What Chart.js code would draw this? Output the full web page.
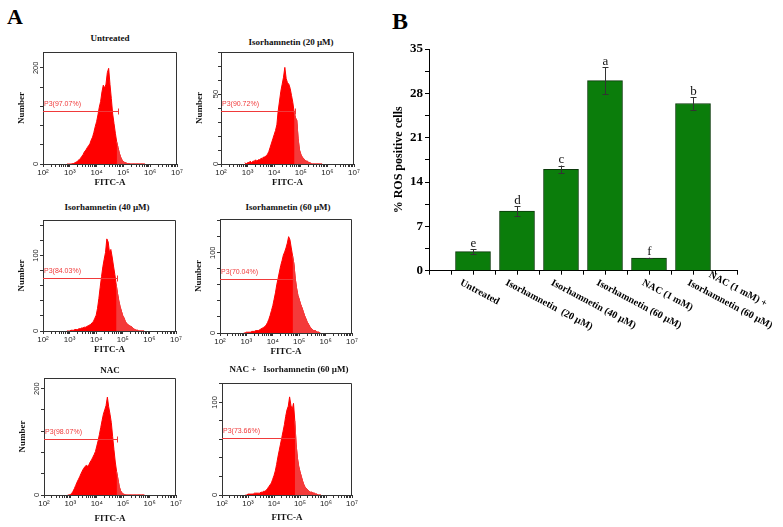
<!DOCTYPE html>
<html><head><meta charset="utf-8">
<script src="https://cdn.jsdelivr.net/npm/chart.js@4.4.1/dist/chart.umd.min.js"></script>
<style>
html,body{margin:0;padding:0;background:#fff;}
#page{position:relative;width:783px;height:527px;overflow:hidden;background:#fff;}
canvas{position:absolute;}
.t{position:absolute;transform:translate(-50%,-50%);white-space:pre;font:bold 9px "Liberation Serif","Times New Roman",serif;color:#111;line-height:1;}
.panel{position:absolute;font-weight:bold;font-family:"Liberation Serif","Times New Roman",serif;line-height:1;color:#000;}
</style></head><body><div id="page"></div>
<script>
// ---------- DATA ----------
// histogram bin positions (log10 of FITC-A)
const binExp = [2.90,2.95,3.00,3.05,3.10,3.15,3.20,3.25,3.30,3.35,
                3.40,3.45,3.50,3.55,3.60,3.65,3.70,3.75,3.80,3.85,
                3.90,3.95,4.00,4.05,4.10,4.15,4.20,4.25,4.30,4.35,
                4.40,4.45,4.50,4.55,4.60,4.65,4.70,4.75,4.80,4.85,
                4.90,4.95,5.00,5.05,5.10,5.15,5.20,5.25,5.30,5.35,
                5.40,5.45,5.50,5.55,5.60,5.65,5.70,5.75,5.80];
const untreated = [0,0,0,0,1,1,3,4,7,9,
                   12,16,20,26,29,34,38,42,50,56,
                   66,78,88,102,118,130,150,164,158,166,
                   190,199,165,136,104,84,64,46,34,22,
                   14,8,5,3,2,1,1,0,0,0,
                   0,0,0,0,0,0,0,0,0];
const iso20 = [1,0,1,1,2,1,2,2,3,2,
               3,3,4,4,5,5,6,7,9,12,
               15,18,21,24,28,38,45,52,57,62,
               69,61,58,57,54,49,44,37,33,31,
               18,10,7,5,4,3,2,2,1,1,
               0,0,0,0,0,0,0,0,0];
const iso40 = [0,0,0,1,1,1,2,2,2,3,
               3,4,4,5,5,6,7,8,9,11,
               13,17,21,30,43,58,72,85,95,104,
               122,118,104,108,98,86,75,62,50,40,
               32,26,20,17,12,10,8,7,6,5,
               3,2,1,1,0,0,0,0,0];
const iso60 = [0,0,1,1,1,1,2,2,2,3,
               3,3,4,5,6,7,8,10,13,17,
               22,28,34,42,50,60,68,76,84,90,
               97,101,106,112,120,116,106,96,86,68,
               56,47,42,36,32,27,22,18,14,11,
               8,6,4,3,3,2,1,1,0];
const nac = [0,0,1,3,7,12,18,24,29,34,
             40,45,50,53,56,54,57,62,66,71,
             76,82,92,102,114,127,140,152,160,168,
             184,166,152,136,110,85,62,44,30,16,
             8,4,2,1,0,0,0,0,0,0,
             0,0,0,0,0,0,0,0,0];
const nacIso60 = [0,0,1,1,1,1,1,2,2,2,
                  2,2,3,3,4,4,5,7,9,11,
                  13,17,21,26,33,41,48,55,62,69,
                  76,85,92,96,106,97,92,99,80,55,
                  40,31,25,20,15,11,8,7,5,4,
                  3,3,2,2,1,1,0,0,0];
const histTitles = ['Untreated','Isorhamnetin (20 µM)','Isorhamnetin (40 µM)','Isorhamnetin (60 µM)','NAC','NAC +   Isorhamnetin (60 µM)'];
const gateLabels = ['P3(97.07%)','P3(90.72%)','P3(84.03%)','P3(70.04%)','P3(98.07%)','P3(73.66%)'];
const gateCounts = [110,38,70,67,105,62];
const gateEnds = [4.78,4.78,4.78,4.78,4.78,4.82];
const histYMax = [233,80,147,142,220,121];
const histYMajor = [100,50,50,50,100,50];
const histYMinor = [20,10,10,10,20,10];
const decadeLabels = ['10²','10³','10⁴','10⁵','10⁶','10⁷'];

const barCategories = ['Untreated','Isorhamnetin  (20 µM)','Isorhamnetin (40 µM)','Isorhamnetin (60 µM)','NAC (1 mM)',['NAC (1 mM) +','Isorhamnetin (60 µM)']];
const rosValues = [3.0,9.4,16.0,30.0,2.0,26.4];
const rosErrors = [0.4,0.75,0.6,2.1,0.05,1.0];
const sigLetters = ['e','d','c','a','f','b'];
const rosTicks = [0,7,14,21,28,35];

// ---------- LAYOUT ----------
const histSeries = [untreated, iso20, iso40, iso60, nac, nacIso60];
const histBoxes = [[43,52,177,164],[221,52,354,164],[43,220,176,331],[220,219,352,333],[44,378,176,495],[222,383,352,495]];
const histTitlePos = [[110,38],[291,42],[107,207],[288,207],[110,370],[289,369]];
const xTitleGap = [19,19,19,19,24,23];
const SERIF = '"Liberation Serif","Times New Roman",serif';
const SANS = '"Liberation Sans","DejaVu Sans",Arial,sans-serif';

const page = document.getElementById('page');
function addCanvas(left, top, w, h){
  const c = document.createElement('canvas');
  c.width = w; c.height = h;
  c.style.left = left+'px'; c.style.top = top+'px';
  c.style.width = w+'px'; c.style.height = h+'px';
  page.appendChild(c); return c;
}
function addDiv(text, cls, css){
  const d = document.createElement('div');
  d.className = cls; d.textContent = text;
  Object.assign(d.style, css); page.appendChild(d); return d;
}
addDiv('A','panel',{left:'7px',top:'6px',fontSize:'22px'});
addDiv('B','panel',{left:'392px',top:'9px',fontSize:'24px'});

const framePlugin = {id:'frame', afterDraw(chart){
  const {ctx, chartArea:a} = chart;
  ctx.save(); ctx.strokeStyle='#333'; ctx.lineWidth=1;
  ctx.beginPath();
  ctx.moveTo(a.left, a.top+0.5); ctx.lineTo(a.right-0.5, a.top+0.5); ctx.lineTo(a.right-0.5, a.bottom);
  ctx.stroke(); ctx.restore();
}};

function gatePlugin(i){
  return {id:'gate'+i, afterDatasetsDraw(chart){
    const xs = chart.scales.x, ys = chart.scales.y, ctx = chart.ctx;
    const y = Math.round(ys.getPixelForValue(gateCounts[i])) + 0.5;
    const x0 = xs.left, x1 = Math.round(xs.getPixelForValue(Math.pow(10, gateEnds[i]))) + 0.5;
    ctx.save();
    ctx.strokeStyle = '#f03a3a'; ctx.lineWidth = 1;
    ctx.beginPath(); ctx.moveTo(x0, y); ctx.lineTo(x1, y);
    ctx.moveTo(x1, y-3); ctx.lineTo(x1, y+3); ctx.stroke();
    ctx.fillStyle = '#f03a3a'; ctx.font = '7px '+SANS; ctx.textBaseline = 'alphabetic'; ctx.textAlign='left';
    ctx.fillText(gateLabels[i], x0+1, y-6);
    ctx.restore();
  }};
}

function makeHist(i){
  const [L,T,R,B] = histBoxes[i];
  const YW = 32, XH = 30, PT = 4, PR = 8;
  const cv = addCanvas(L-YW, T-PT, R-L+YW+PR, B-T+PT+XH);
  const series = histSeries[i];
  const pts = binExp.map((e,k)=>({x: Math.pow(10,e), y: series[k]}));
  const hi = binExp.map((e,k)=>({x: Math.pow(10,e), y: series[k], e:e})).filter(p=>p.e >= gateEnds[i]-0.03);
  const ymax = histYMax[i], major = histYMajor[i], minor = histYMinor[i];
  new Chart(cv, {
    type:'line',
    data:{datasets:[
      {data:pts, fill:'origin', backgroundColor:'#ff0000', borderColor:'#ff0000', borderWidth:1, pointRadius:0, tension:0, order:2},
      {data:hi, fill:'origin', backgroundColor:'#f43a3a', borderColor:'#f43a3a', borderWidth:1, pointRadius:0, tension:0, order:1}
    ]},
    options:{
      responsive:false, animation:false, devicePixelRatio:1,
      layout:{padding:{top:PT, right:PR, left:0, bottom:0}},
      plugins:{legend:{display:false}, tooltip:{enabled:false}},
      scales:{
        x:{type:'logarithmic', min:100, max:1e7,
          afterBuildTicks(s){ const t=[]; for(let d=2; d<=7; d++){ for(let m=1; m<=9; m++){ const v=m*Math.pow(10,d); if(v<=1e7*1.0001) t.push({value:v}); } } s.ticks=t; },
          afterFit(s){ s.height = XH; s.paddingLeft=0; s.paddingRight=0; },
          ticks:{autoSkip:false, maxRotation:0, minRotation:0, padding:1, color:'#222', font:{family:SANS, size:8},
            callback(v){ const e=Math.log10(v), r=Math.round(e); return Math.abs(e-r)<1e-6 ? decadeLabels[r-2] : ''; }},
          grid:{drawOnChartArea:false, tickLength:3, color:'#333'},
          border:{color:'#333', width:1},
          title:{display:true, text:'FITC-A', color:'#111', font:{family:SERIF, weight:'bold', size:9}, padding:{top:0, bottom:24.6-xTitleGap[i]}}
        },
        y:{type:'linear', min:0, max:ymax,
          afterBuildTicks(s){ const t=[]; for(let v=0; v<=ymax+1e-9; v+=minor) t.push({value:v}); s.ticks=t; },
          afterFit(s){ s.width = YW; s.paddingTop=0; s.paddingBottom=0; },
          ticks:{minRotation:90, maxRotation:90, crossAlign:'center', padding:-2, color:'#222', font:{family:SANS, size:7.5},
            callback(v){ return v % major === 0 ? String(v) : ''; }},
          grid:{drawOnChartArea:false, tickLength:3, color:'#333'},
          border:{color:'#333', width:1},
          title:{display: i!==5, text:'Number', color:'#111', font:{family:SERIF, weight:'bold', size:9}, padding:{top:5, bottom:0}}
        }
      }
    },
    plugins:[framePlugin, gatePlugin(i)]
  });
  addDiv(histTitles[i], 't', {left:histTitlePos[i][0]+'px', top:histTitlePos[i][1]+'px'});
}
for (let i=0;i<6;i++) makeHist(i);

// ---------- PANEL B ----------
const errPlugin = {id:'err', afterDatasetsDraw(chart){
  const xs = chart.scales.x, ys = chart.scales.y, ctx = chart.ctx;
  ctx.save();
  rosValues.forEach((v,i)=>{
    const x = Math.round(xs.getPixelForValue(i)) + 0.5;
    const yt = ys.getPixelForValue(v + rosErrors[i]);
    const yb = ys.getPixelForValue(v - rosErrors[i]);
    ctx.strokeStyle = '#333'; ctx.lineWidth = 1;
    ctx.beginPath();
    ctx.moveTo(x, yt); ctx.lineTo(x, yb);
    ctx.moveTo(x-3, Math.round(yt)+0.5); ctx.lineTo(x+3, Math.round(yt)+0.5);
    ctx.moveTo(x-3, Math.round(yb)+0.5); ctx.lineTo(x+3, Math.round(yb)+0.5);
    ctx.stroke();
    ctx.fillStyle = '#111'; ctx.font = '13px '+SERIF; ctx.textAlign='center'; ctx.textBaseline='alphabetic';
    ctx.fillText(sigLetters[i], x, yt - 2.5);
  });
  ctx.restore();
}};
const catLabelPlugin = {id:'catlab', afterDraw(chart){
  const xs = chart.scales.x, ctx = chart.ctx;
  ctx.save();
  ctx.font = 'bold 10px '+SERIF; ctx.fillStyle = '#000';
  barCategories.forEach((lab,i)=>{
    const lines = Array.isArray(lab) ? lab : [lab];
    const x0 = xs.getPixelForValue(i) - 10 + 1.5*i;
    const y0 = xs.top + 7;
    ctx.save(); ctx.translate(x0, y0); ctx.rotate(28*Math.PI/180);
    ctx.textAlign = 'left'; ctx.textBaseline = 'top';
    const widths = lines.map(l=>ctx.measureText(l).width);
    const wMax = Math.max.apply(null, widths);
    const n = lines.length;
    lines.forEach((l,k)=>{ ctx.fillText(l, (wMax-widths[k])/2, (k-(n-1))*17); });
    ctx.restore();
  });
  ctx.restore();
}};

const cvB = addCanvas(390, 40, 393, 300);
new Chart(cvB, {
  type:'bar',
  data:{datasets:[{
    data: rosValues.map((v,i)=>({x:i, y:v})),
    backgroundColor:'#0b7d0b', borderColor:'#0a3a0a', borderWidth:1,
    barThickness:35
  }]},
  options:{
    responsive:false, animation:false, devicePixelRatio:1,
    layout:{padding:{top:9, right:46, left:0, bottom:0}},
    plugins:{legend:{display:false}, tooltip:{enabled:false}},
    scales:{
      x:{type:'linear', min:-1, max:6, offset:false,
        afterBuildTicks(s){ const t=[]; for(let v=-1; v<=6; v+=0.5) t.push({value:v}); s.ticks=t; },
        afterFit(s){ s.height = 69.3; s.paddingLeft=0; s.paddingRight=0; },
        ticks:{display:false},
        grid:{offset:false, drawOnChartArea:false, tickLength:4, color:'#000'},
        border:{color:'#000', width:1}
      },
      y:{type:'linear', min:0, max:35,
        afterBuildTicks(s){ const t=[]; for(let v=0; v<=35; v+=3.5) t.push({value:v}); s.ticks=t; },
        afterFit(s){ s.width = 39; s.paddingTop=0; s.paddingBottom=0; },
        ticks:{padding:2, color:'#000', font:{family:SERIF, weight:'bold', size:13},
          callback(v){ return rosTicks.indexOf(v) >= 0 ? String(v) : ''; }},
        grid:{drawOnChartArea:false, tickLength:4, color:'#000'},
        border:{color:'#000', width:1},
        title:{display:true, text:'% ROS positive cells', color:'#000', font:{family:SERIF, weight:'bold', size:12}, padding:{top:1.8, bottom:0}}
      }
    }
  },
  plugins:[errPlugin, catLabelPlugin]
});
</script>
</body></html>
